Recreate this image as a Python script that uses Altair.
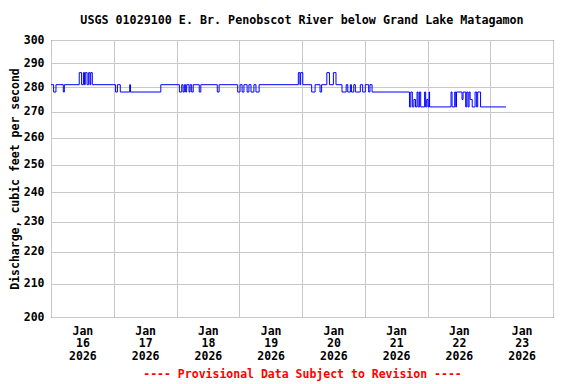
import json
import altair as alt
import pandas as pd

# Step changes of discharge: hours since 2026-01-16 00:00 and value (cfs)
hours = [0.0, 1.0, 1.9, 4.7, 5.1, 10.8, 11.7, 12.4, 12.8, 13.1, 13.8, 14.4, 14.9, 15.2, 15.8,
         24.7, 25.4, 26.5, 30.1, 30.4, 42.0,
         49.1, 50.0, 50.5, 51.0, 51.5, 51.9, 52.8, 53.2, 53.8, 54.4, 56.7, 57.3, 63.6, 64.3,
         71.4, 72.3, 73.1, 73.8, 75.0, 75.7, 76.5, 77.6, 78.4, 79.6,
         94.6, 95.2, 95.5, 96.3,
         99.7, 101.0, 102.9, 103.5, 105.5, 106.5, 108.0, 109.0,
         111.3, 112.9, 113.5, 114.5, 114.9, 115.8, 116.4, 118.3, 119.2, 120.2, 121.5, 122.0, 122.8,
         137.1, 137.6, 138.2, 138.8, 139.4, 140.0, 140.4, 140.9, 141.4,
         142.9, 143.3, 143.7, 144.2, 144.6, 144.8,
         153.0, 153.4, 154.4, 154.8, 155.1, 157.2, 157.6, 158.6, 159.0, 159.5, 159.9, 160.3,
         161.1, 162.2, 162.8, 163.2, 164.3, 174.0]
cfs = [281, 278, 281, 278, 281, 286, 281, 286, 281, 286, 281, 286, 281, 286, 281,
       278, 281, 278, 281, 278, 281,
       278, 281, 278, 281, 278, 281, 278, 281, 278, 281, 278, 281, 278, 281,
       278, 281, 278, 281, 278, 281, 278, 281, 278, 281,
       286, 281, 286, 281,
       278, 281, 278, 281, 286, 281, 286, 281,
       278, 281, 278, 281, 278, 281, 278, 281, 278, 281, 278, 281, 278,
       272, 278, 272, 275, 272, 278, 272, 278, 272,
       278, 272, 275, 272, 278, 272,
       278, 272, 278, 272, 278, 275, 278, 272, 278, 272, 278, 275,
       272, 278, 272, 278, 272, 272]

# Axis labels
month = "Jan"
days = ["16", "17", "18", "19", "20", "21", "22", "23"]
year = "2026"
y_ticks = list(range(200, 301, 10))

title = "USGS 01029100 E. Br. Penobscot River below Grand Lake Matagamon"
y_title = "Discharge, cubic feet per second"
footer = "---- Provisional Data Subject to Revision ----"

FONT = "DejaVu Sans Mono"

df = pd.DataFrame({"hour": hours, "cfs": cfs})

label_expr = (
    "datum.value % 24 == 12 ? ['" + month + "', "
    + json.dumps(days).replace('"', "'") + "[floor(datum.value / 24)], '" + year + "'] : ''"
)

chart = alt.Chart(df).mark_line(
    interpolate="step-after", color="#0000ff", strokeWidth=1
).encode(
    x=alt.X(
        "hour:Q",
        scale=alt.Scale(domain=[0, 192], nice=False, zero=False),
        axis=alt.Axis(
            values=list(range(0, 193, 12)),
            grid=True,
            gridColor="#c8c8c8",
            gridOpacity={"condition": {"test": "datum.value % 24 == 0", "value": 1}, "value": 0},
            ticks=False,
            domain=False,
            labelExpr=label_expr,
            labelOverlap=False,
            labelFlush=False,
            labelFont=FONT,
            labelFontSize=11.5,
            labelFontWeight="bold",
            labelColor="black",
            labelLineHeight=12.8,
            labelPadding=8,
            title=footer,
            titleFont=FONT,
            titleFontSize=11.5,
            titleFontWeight="bold",
            titleColor="#ff0000",
            titlePadding=6,
        ),
    ),
    y=alt.Y(
        "cfs:Q",
        scale=alt.Scale(type="log", domain=[200, 300], nice=False),
        axis=alt.Axis(
            values=y_ticks,
            grid=True,
            gridColor="#c8c8c8",
            ticks=False,
            domain=False,
            labelOverlap=False,
            labelFont=FONT,
            labelFontSize=11.5,
            labelFontWeight="bold",
            labelColor="black",
            labelPadding=7,
            title=y_title,
            titleFont=FONT,
            titleFontSize=11.5,
            titleFontWeight="bold",
            titleColor="black",
            titlePadding=3,
        ),
    ),
).properties(
    width=502,
    height=277,
    autosize=alt.AutoSizeParams(type="none"),
    padding={"left": 43, "top": 32, "right": 15, "bottom": 66},
    title=alt.TitleParams(
        text=title, font=FONT, fontSize=11.7, fontWeight="bold", color="black",
        anchor="middle", offset=7,
    ),
).configure_view(stroke="black", strokeWidth=1)

chart.save("out.html", embed_options={"renderer": "svg", "actions": False})
